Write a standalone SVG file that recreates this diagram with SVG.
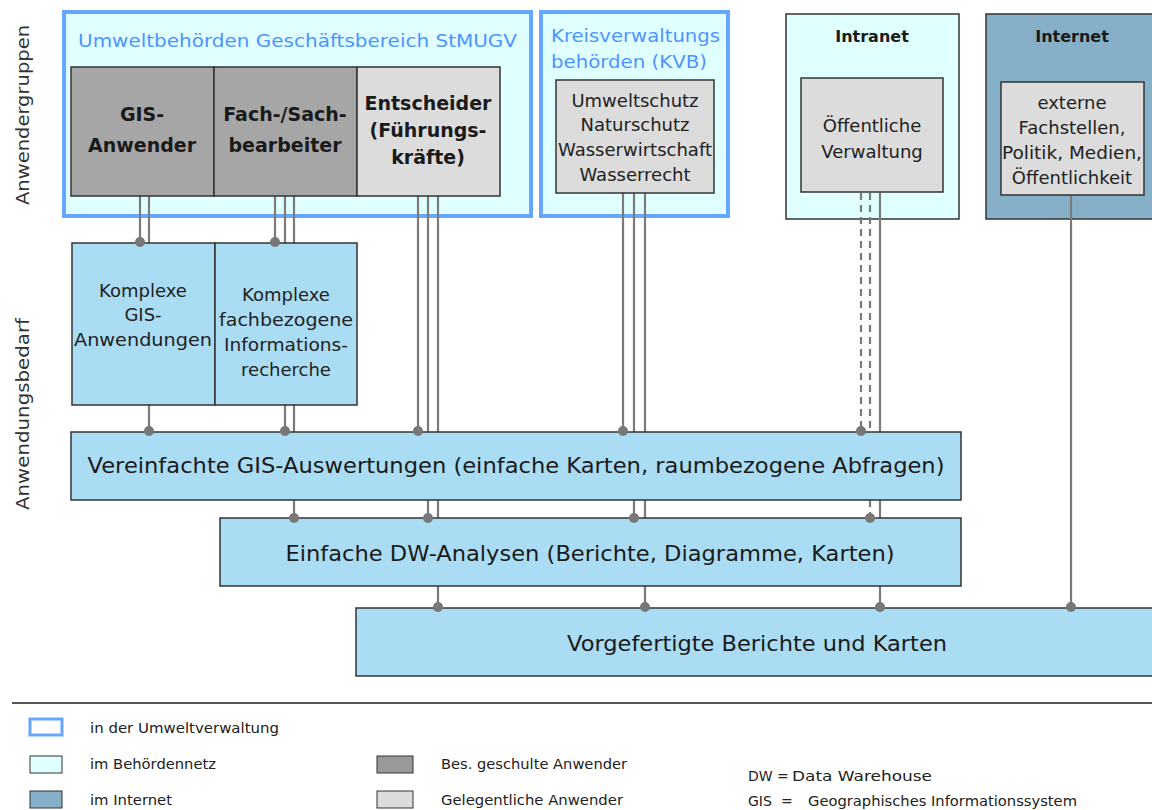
<svg xmlns="http://www.w3.org/2000/svg" width="1152" height="810" viewBox="0 0 1152 810">
<style>
text{font-family:"DejaVu Sans","Liberation Sans",sans-serif;fill:#1a1a1a}
.grp{fill:#e0ffff;stroke:#66a6ff;stroke-width:4}
.net{fill:#e0ffff;stroke:#333;stroke-width:1.5}
.inet{fill:#85b0c8;stroke:#333;stroke-width:1.5}
.dark{fill:#a6a6a6;stroke:#333;stroke-width:1.5}
.light{fill:#dcdcdc;stroke:#333;stroke-width:1.5}
.app{fill:#aadcf4;stroke:#333;stroke-width:1.5}
.gt{fill:#4d94ff;font-size:18px}
.ub{font-size:19px;font-weight:bold;text-anchor:middle}
.nb{font-size:16px;font-weight:bold;text-anchor:middle}
.t{font-size:18px;text-anchor:middle;fill:#222}
.big{font-size:22px;text-anchor:middle}
.side{font-size:17px;fill:#333;text-anchor:middle}
.lg{font-size:14px;fill:#222}
.c{fill:none;stroke:#7a7a7a;stroke-width:2.2}
.d{stroke-dasharray:7,5}
.dot{fill:#777}
</style>

<g id="side-labels">
<text class="side" transform="translate(29,115) rotate(-90)" textLength="180" lengthAdjust="spacingAndGlyphs">Anwendergruppen</text>
<text class="side" transform="translate(29,414) rotate(-90)" textLength="192" lengthAdjust="spacingAndGlyphs">Anwendungsbedarf</text>
</g>

<g id="grp-stmugv">
<rect class="grp" x="64" y="12" width="467" height="204"/>
<text class="gt" x="78" y="47" textLength="439" lengthAdjust="spacingAndGlyphs">Umweltbehörden Geschäftsbereich StMUGV</text>
</g>
<g id="grp-kvb">
<rect class="grp" x="541" y="12" width="187" height="204"/>
<text class="gt" x="551" y="42" textLength="169" lengthAdjust="spacingAndGlyphs">Kreisverwaltungs</text>
<text class="gt" x="551" y="68" textLength="156" lengthAdjust="spacingAndGlyphs">behörden (KVB)</text>
</g>
<g id="grp-intranet">
<rect class="net" x="786" y="14" width="173" height="205"/>
<text class="nb" x="872" y="42">Intranet</text>
</g>
<g id="grp-internet">
<rect class="inet" x="986" y="14" width="172" height="205"/>
<text class="nb" x="1072" y="42">Internet</text>
</g>

<g id="connectors">
<path class="c" d="M140,196V243"/>
<path class="c" d="M149,196V243M149,405V432"/>
<path class="c" d="M275,196V243"/>
<path class="c" d="M285,196V243M285,405V432"/>
<path class="c" d="M294,196V243M294,405V432M294,500V518"/>
<path class="c" d="M418,196V432"/>
<path class="c" d="M428,196V432M428,500V518"/>
<path class="c" d="M438,196V432M438,500V518M438,586V608"/>
<path class="c" d="M623,193V432"/>
<path class="c" d="M634,193V432M634,500V518"/>
<path class="c" d="M645,193V432M645,500V518M645,586V608"/>
<path class="c d" d="M861,193V432"/>
<path class="c d" d="M870,193V432M870,500V518"/>
<path class="c" d="M880,193V432M880,500V518M880,586V608"/>
<path class="c" d="M1071,195V608"/>
</g>

<g id="gis-anwender">
<rect class="dark" x="71" y="67" width="143" height="129"/>
<text class="ub" x="142" y="121">GIS-</text>
<text class="ub" x="142" y="152">Anwender</text>
</g>
<g id="fach-sachbearbeiter">
<rect class="dark" x="214" y="67" width="143" height="129"/>
<text class="ub" x="285" y="121">Fach-/Sach-</text>
<text class="ub" x="285" y="152">bearbeiter</text>
</g>
<g id="entscheider">
<rect class="light" x="357" y="67" width="143" height="129"/>
<text class="ub" x="428" y="110">Entscheider</text>
<text class="ub" x="428" y="137">(Führungs-</text>
<text class="ub" x="428" y="164">kräfte)</text>
</g>
<g id="kvb-fach">
<rect class="light" x="556" y="80" width="158" height="113"/>
<text class="t" x="635" y="107">Umweltschutz</text>
<text class="t" x="635" y="131">Naturschutz</text>
<text class="t" x="635" y="156" textLength="154" lengthAdjust="spacingAndGlyphs">Wasserwirtschaft</text>
<text class="t" x="635" y="181">Wasserrecht</text>
</g>
<g id="oeffentliche-verwaltung">
<rect class="light" x="801" y="78" width="142" height="114"/>
<text class="t" x="872" y="132">Öffentliche</text>
<text class="t" x="872" y="158">Verwaltung</text>
</g>
<g id="externe">
<rect class="light" x="1001" y="82" width="143" height="113"/>
<text class="t" x="1072" y="109">externe</text>
<text class="t" x="1072" y="134">Fachstellen,</text>
<text class="t" x="1072" y="159" textLength="140" lengthAdjust="spacingAndGlyphs">Politik, Medien,</text>
<text class="t" x="1072" y="184">Öffentlichkeit</text>
</g>

<g id="komplexe-gis">
<rect class="app" x="72" y="243" width="143" height="162"/>
<text class="t" x="143" y="297">Komplexe</text>
<text class="t" x="143" y="321">GIS-</text>
<text class="t" x="143" y="346" textLength="138" lengthAdjust="spacingAndGlyphs">Anwendungen</text>
</g>
<g id="komplexe-recherche">
<rect class="app" x="215" y="243" width="142" height="162"/>
<text class="t" x="286" y="301">Komplexe</text>
<text class="t" x="286" y="326" textLength="134" lengthAdjust="spacingAndGlyphs">fachbezogene</text>
<text class="t" x="286" y="351" textLength="124" lengthAdjust="spacingAndGlyphs">Informations-</text>
<text class="t" x="286" y="376">recherche</text>
</g>
<g id="vereinfachte-gis">
<rect class="app" x="71" y="432" width="890" height="68"/>
<text class="big" x="516" y="473" textLength="857" lengthAdjust="spacingAndGlyphs">Vereinfachte GIS-Auswertungen (einfache Karten, raumbezogene Abfragen)</text>
</g>
<g id="dw-analysen">
<rect class="app" x="220" y="518" width="741" height="68"/>
<text class="big" x="590" y="561" textLength="609" lengthAdjust="spacingAndGlyphs">Einfache DW-Analysen (Berichte, Diagramme, Karten)</text>
</g>
<g id="vorgefertigte">
<rect class="app" x="356" y="608" width="800" height="68"/>
<text class="big" x="757" y="651" textLength="380" lengthAdjust="spacingAndGlyphs">Vorgefertigte Berichte und Karten</text>
</g>

<g id="connector-dots">
<circle class="dot" cx="140" cy="242" r="5"/>
<circle class="dot" cx="275" cy="242" r="5"/>
<circle class="dot" cx="149" cy="431" r="5"/>
<circle class="dot" cx="285" cy="431" r="5"/>
<circle class="dot" cx="418" cy="431" r="5"/>
<circle class="dot" cx="623" cy="431" r="5"/>
<circle class="dot" cx="861" cy="431" r="5"/>
<circle class="dot" cx="294" cy="518" r="5"/>
<circle class="dot" cx="428" cy="518" r="5"/>
<circle class="dot" cx="634" cy="518" r="5"/>
<circle class="dot" cx="870" cy="518" r="5"/>
<circle class="dot" cx="438" cy="607" r="5"/>
<circle class="dot" cx="645" cy="607" r="5"/>
<circle class="dot" cx="880" cy="607" r="5"/>
<circle class="dot" cx="1071" cy="607" r="5"/>
</g>

<g id="legend">
<line x1="12" y1="703" x2="1152" y2="703" stroke="#555" stroke-width="2"/>
<rect x="30" y="719" width="32" height="16" fill="#fff" stroke="#66a6ff" stroke-width="3"/>
<text class="lg" x="90" y="733" textLength="189" lengthAdjust="spacingAndGlyphs">in der Umweltverwaltung</text>
<rect x="30" y="756" width="32" height="17" fill="#e0ffff" stroke="#333" stroke-width="1"/>
<text class="lg" x="90" y="769" textLength="126" lengthAdjust="spacingAndGlyphs">im Behördennetz</text>
<rect x="30" y="791" width="32" height="17" fill="#85b0c8" stroke="#333" stroke-width="1"/>
<text class="lg" x="90" y="805" textLength="82" lengthAdjust="spacingAndGlyphs">im Internet</text>
<rect x="377" y="756" width="36" height="17" fill="#999" stroke="#333" stroke-width="1"/>
<text class="lg" x="441" y="769" textLength="186" lengthAdjust="spacingAndGlyphs">Bes. geschulte Anwender</text>
<rect x="377" y="791" width="36" height="17" fill="#dcdcdc" stroke="#333" stroke-width="1"/>
<text class="lg" x="441" y="805" textLength="182" lengthAdjust="spacingAndGlyphs">Gelegentliche Anwender</text>
<text class="lg" x="748" y="781"><tspan>DW</tspan><tspan x="777">=</tspan><tspan x="792" textLength="140" lengthAdjust="spacingAndGlyphs">Data Warehouse</tspan></text>
<text class="lg" x="748" y="806"><tspan>GIS</tspan><tspan x="781">=</tspan><tspan x="808" textLength="269" lengthAdjust="spacingAndGlyphs">Geographisches Informationssystem</tspan></text>
</g>
</svg>
